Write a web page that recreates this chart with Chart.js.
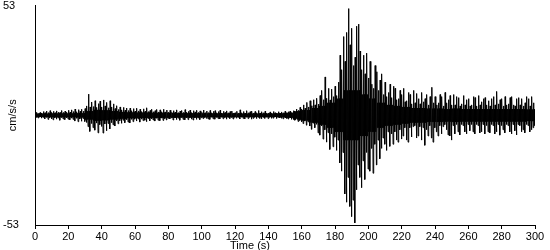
<!DOCTYPE html>
<html>
<head>
<meta charset="utf-8">
<script src="https://cdn.jsdelivr.net/npm/chart.js@4"></script>
<style>
  body { margin: 0; background: #fff; }
  #wrap { width: 550px; height: 250px; }
</style>
</head>
<body>
<div id="wrap"><canvas id="quake" width="550" height="250"></canvas></div>
<script>
// Пиковые значения ускорения за каждую секунду (cm/s/s)
const upper = [
  1.0,1.4,0.9,1.3,1.1,1.8,1.2,2.0,1.3,2.2,1.4,1.9,1.2,2.1,1.5,1.3,2.3,1.4,2.0,1.5,
  2.4,1.5,2.6,1.8,3.0,1.7,2.7,1.9,2.9,2.0,3.2,4.5,10.2,4.0,6.4,4.2,7.0,3.8,5.6,6.8,
  4.0,7.4,4.5,6.2,3.6,7.0,4.0,5.5,3.2,4.6,2.8,4.0,2.6,3.8,2.4,3.5,2.3,3.4,2.2,3.2,
  2.0,3.4,2.1,2.9,1.8,3.1,1.9,3.6,1.8,2.3,2.9,1.7,2.2,2.8,1.6,2.6,1.7,2.9,1.6,2.5,
  1.5,2.4,1.4,2.2,1.5,2.6,1.3,2.0,2.3,1.4,2.7,1.5,1.9,2.5,1.3,2.2,1.6,2.4,1.4,2.1,
  1.4,2.5,1.2,2.0,1.3,2.3,1.2,1.9,2.2,1.2,1.8,2.4,1.1,1.9,1.3,2.1,1.2,1.8,2.0,1.1,
  1.2,1.9,1.1,2.6,1.2,1.8,1.0,2.2,1.2,1.7,2.0,1.1,1.8,1.2,2.3,1.1,1.7,1.2,1.9,1.0,
  1.1,1.6,1.0,1.8,1.2,1.1,1.7,1.0,1.6,1.2,1.9,1.1,1.7,2.0,1.3,2.2,1.5,3.0,2.4,3.8,
  3.0,5.0,3.4,6.2,4.0,7.0,4.6,7.5,5.0,8.2,5.4,9.5,12.0,7.5,18.5,8.2,13.0,7.4,12.6,9.0,
  14.0,9.5,16.0,29.0,22.0,38.0,26.0,40.0,51.5,34.0,42.0,24.0,28.0,43.0,44.0,31.0,22.0,29.0,20.0,30.0,
  18.0,26.0,15.0,13.0,24.0,21.0,12.0,17.0,20.0,10.0,16.0,9.0,11.0,15.0,8.5,14.0,13.0,7.5,8.0,12.0,
  10.0,13.0,6.5,7.0,11.0,10.0,5.5,12.0,6.0,10.5,8.0,5.5,11.0,6.5,8.0,10.0,5.0,9.0,13.5,6.0,
  9.0,5.0,6.0,10.0,9.0,4.5,11.0,6.0,7.5,9.5,5.0,10.0,5.0,9.0,8.5,4.5,5.5,9.5,5.0,7.5,
  8.0,4.5,5.0,9.0,8.5,4.5,9.5,5.0,6.5,8.0,8.5,5.0,7.0,4.5,8.0,9.0,5.0,11.5,5.5,7.5,
  8.0,4.5,9.0,5.0,5.5,8.5,9.0,5.0,4.5,8.0,8.5,5.0,8.0,4.5,6.0,9.0,8.0,4.5,9.0,6.0
];
const lower = [
  -1.1,-1.3,-0.9,-1.4,-1.0,-1.7,-1.1,-2.0,-1.2,-1.8,-2.2,-1.2,-1.9,-1.3,-2.4,-1.2,-1.8,-2.1,-1.3,-1.9,
  -2.2,-1.4,-2.0,-2.8,-1.5,-3.1,-1.8,-2.9,-1.6,-3.0,-3.5,-5.5,-7.8,-4.0,-6.0,-7.2,-3.8,-8.5,-4.5,-5.4,
  -8.6,-4.2,-7.5,-4.0,-6.6,-3.6,-4.6,-5.2,-2.8,-4.1,-2.6,-3.9,-2.4,-3.6,-2.2,-3.3,-3.7,-2.0,-3.1,-1.9,
  -2.8,-1.8,-3.3,-1.9,-2.6,-2.4,-3.1,-1.6,-2.7,-1.8,-2.3,-2.8,-1.5,-2.4,-2.6,-1.4,-2.5,-1.6,-2.3,-1.5,
  -1.8,-1.3,-2.3,-1.2,-2.1,-1.4,-2.4,-1.2,-2.0,-2.2,-1.3,-2.1,-1.2,-1.9,-2.3,-1.2,-2.0,-1.3,-2.1,-1.2,
  -1.6,-1.1,-1.5,-1.8,-2.0,-1.0,-1.7,-1.9,-1.1,-1.6,-1.8,-1.0,-1.7,-1.1,-1.9,-1.0,-1.6,-1.1,-1.8,-1.0,
  -1.4,-1.0,-1.8,-1.0,-1.5,-1.7,-1.0,-1.6,-1.0,-1.9,-1.5,-1.0,-1.6,-1.0,-1.5,-1.7,-1.0,-1.5,-1.0,-1.6,
  -1.0,-1.5,-1.4,-0.9,-1.6,-1.0,-1.3,-1.5,-1.7,-1.0,-1.6,-1.8,-1.1,-2.0,-1.3,-2.4,-1.6,-3.0,-2.5,-3.2,
  -4.0,-2.8,-4.8,-3.2,-5.2,-6.8,-3.8,-6.0,-4.4,-8.5,-9.6,-5.2,-11.5,-7.0,-13.0,-8.4,-16.5,-9.0,-15.2,-10.6,
  -17.0,-12.0,-23.0,-27.0,-18.0,-38.0,-42.0,-30.0,-44.0,-49.0,-41.0,-52.0,-36.0,-24.0,-30.0,-35.0,-22.0,-31.0,-18.0,-26.0,
  -27.0,-16.0,-28.0,-14.0,-24.0,-12.0,-21.0,-16.0,-11.0,-14.0,-17.0,-8.0,-15.0,-9.0,-14.0,-8.0,-12.0,-13.0,-7.0,-11.5,
  -10.0,-6.0,-12.0,-13.0,-6.0,-10.5,-5.5,-5.0,-11.0,-10.0,-5.5,-12.0,-6.0,-14.5,-7.0,-10.0,-5.0,-11.0,-13.0,-6.0,
  -8.0,-10.0,-5.0,-9.0,-5.5,-4.5,-7.0,-9.5,-10.0,-12.0,-5.0,-9.0,-4.5,-8.0,-9.5,-4.5,-5.0,-8.0,-9.0,-4.5,
  -7.5,-4.5,-8.0,-9.0,-4.5,-5.0,-8.5,-8.0,-4.5,-9.0,-5.0,-8.0,-8.5,-4.5,-5.0,-9.0,-8.0,-4.5,-9.6,-5.0,
  -7.0,-8.5,-4.5,-5.0,-8.0,-9.0,-4.5,-7.5,-9.5,-4.5,-5.0,-8.0,-7.0,-8.5,-4.5,-5.0,-8.0,-7.0,-6.0,-5.0
];
// Полуширина сплошной чёрной полосы за каждые 5 с (cm/s/s)
const core = [
  0.8, 0.8, 0.9, 0.9, 0.9, 1.0,
  2.0, 2.6, 2.4, 2.0, 1.6, 1.4,
  1.3, 1.3, 1.2, 1.2, 1.1, 1.0,
  1.0, 1.0, 0.9, 0.9, 0.9, 0.9,
  0.8, 0.8, 0.8, 0.8, 0.8, 0.9,
  1.2, 2.0, 2.5, 3.5, 4.5, 6.0,
  8.0, 12.0, 12.0, 10.0, 8.0, 6.0,
  5.0, 4.5, 4.0, 3.5, 3.5, 3.2,
  3.2, 3.0, 3.2, 3.0, 3.0, 3.0,
  3.0, 3.0, 3.0, 3.0, 3.0, 2.8
];
const yTicks = [-53, 53];
const timeRange = [0, 300];
const timeStep = 20;

// Трасса: пик вверх, ядро, пик вниз в каждой секунде
const trace = [];
upper.forEach((v, i) => {
    const c = core[Math.floor(i / 5)];
    trace.push({ x: i + 0.1, y: v });
    trace.push({ x: i + 0.35, y: -c });
    trace.push({ x: i + 0.6, y: c });
    trace.push({ x: i + 0.85, y: lower[i] });
});

const font = { family: '"Liberation Sans", Arial, sans-serif', size: 11, lineHeight: 1 };

// Подписи осей
const axisTitles = {
    id: 'axisTitles',
    afterDraw(chart) {
        const ctx = chart.ctx;
        const area = chart.chartArea;
        ctx.save();
        ctx.fillStyle = '#000';
        ctx.font = '11px "Liberation Sans", Arial, sans-serif';
        ctx.textAlign = 'center';
        ctx.textBaseline = 'middle';
        ctx.fillText('Time (s)', 250, 246);
        ctx.translate(13, (area.top + area.bottom) / 2);
        ctx.rotate(-Math.PI / 2);
        ctx.fillText('cm/s/s', 0, 0);
        ctx.restore();
    }
};

new Chart(document.getElementById('quake'), {
    type: 'line',
    data: {
        datasets: [{
            data: trace,
            borderColor: '#000',
            borderWidth: 1,
            pointRadius: 0,
            tension: 0,
            fill: false
        }]
    },
    options: {
        responsive: false,
        animation: false,
        normalized: true,
        layout: { padding: { left: 3, right: 15, top: 0, bottom: 5 } },
        plugins: { legend: { display: false }, tooltip: { enabled: false } },
        scales: {
            x: {
                type: 'linear',
                min: timeRange[0],
                max: timeRange[1],
                afterFit: scale => { scale.height = 20; },
                grid: { drawOnChartArea: false, color: '#000', tickLength: 4 },
                border: { color: '#000' },
                ticks: { stepSize: timeStep, color: '#000', font, padding: 2, maxRotation: 0, autoSkip: false }
            },
            y: {
                min: yTicks[0],
                max: yTicks[1],
                afterBuildTicks: scale => { scale.ticks = yTicks.map(v => ({ value: v })); },
                afterFit: scale => { scale.width = 32; },
                grid: { display: false },
                border: { color: '#000' },
                ticks: { color: '#000', font, crossAlign: 'far', padding: 0 }
            }
        }
    },
    plugins: [axisTitles]
});
</script>
</body>
</html>
